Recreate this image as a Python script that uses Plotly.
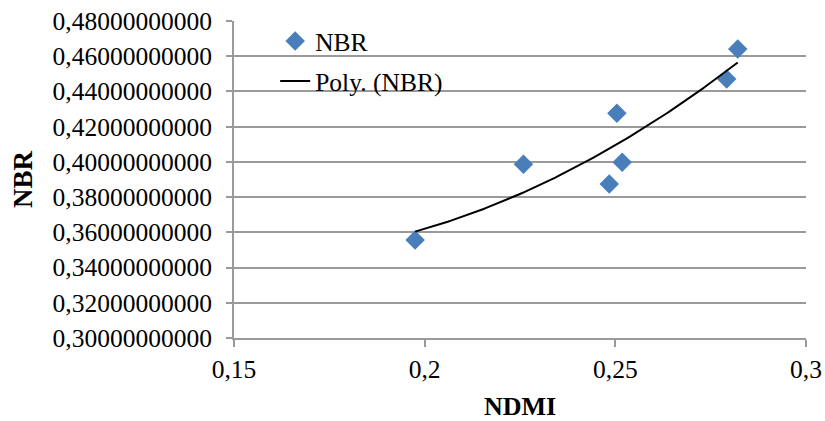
import numpy as np
import plotly.graph_objects as go

# Data
ndmi = [0.1975, 0.2259, 0.2484, 0.2504, 0.2518, 0.2792, 0.2821]
nbr = [0.3556, 0.3986, 0.3874, 0.4276, 0.3998, 0.4471, 0.4641]

y_tick_vals = [0.30, 0.32, 0.34, 0.36, 0.38, 0.40, 0.42, 0.44, 0.46, 0.48]
y_tick_text = ["0,30000000000", "0,32000000000", "0,34000000000", "0,36000000000",
               "0,38000000000", "0,40000000000", "0,42000000000", "0,44000000000",
               "0,46000000000", "0,48000000000"]
x_tick_vals = [0.15, 0.2, 0.25, 0.3]
x_tick_text = ["0,15", "0,2", "0,25", "0,3"]

# Polynomial (order 2) trendline, as in the spreadsheet
coef = np.polyfit(ndmi, nbr, 2)
xf = np.linspace(min(ndmi), max(ndmi), 100)
yf = np.polyval(coef, xf)

FONT = "Liberation Serif, Times New Roman, serif"

fig = go.Figure()
fig.add_trace(go.Scatter(
    x=ndmi, y=nbr, mode="markers", name="NBR", legendgroup="a",
    marker=dict(symbol="diamond", size=15, color="#4a7ebb"),
))
fig.add_trace(go.Scatter(
    x=xf, y=yf, mode="lines", name="Poly. (NBR)", legendgroup="b",
    line=dict(color="black", width=2),
))

fig.update_layout(
    width=825, height=421,
    margin=dict(l=234, r=19, t=21, b=83),
    paper_bgcolor="white", plot_bgcolor="white",
    font=dict(family=FONT, size=25.5, color="black"),
    legend=dict(x=0.072, y=1.01, xanchor="left", yanchor="top",
                bgcolor="rgba(255,255,255,0)", font=dict(size=25.5),
                traceorder="grouped", tracegroupgap=4),
    xaxis=dict(
        range=[0.15, 0.3], tickvals=x_tick_vals, ticktext=x_tick_text,
        showgrid=False, zeroline=False, automargin=False,
        showline=True, linecolor="#9a9a9a", linewidth=2,
        ticks="outside", ticklen=7, tickwidth=2, tickcolor="#9a9a9a",
        title=dict(text="<b>NDMI</b>", font=dict(size=26), standoff=16),
    ),
    yaxis=dict(
        range=[0.30, 0.48], tickvals=y_tick_vals, ticktext=y_tick_text,
        showgrid=True, gridcolor="#9a9a9a", gridwidth=2, zeroline=False,
        automargin=False, ticklabelstandoff=9,
        showline=True, linecolor="#9a9a9a", linewidth=2,
        ticks="outside", ticklen=6, tickwidth=2, tickcolor="#9a9a9a",
        title=dict(text="<b>NBR</b>", font=dict(size=27), standoff=12),
    ),
)

fig.write_html("out.html")
